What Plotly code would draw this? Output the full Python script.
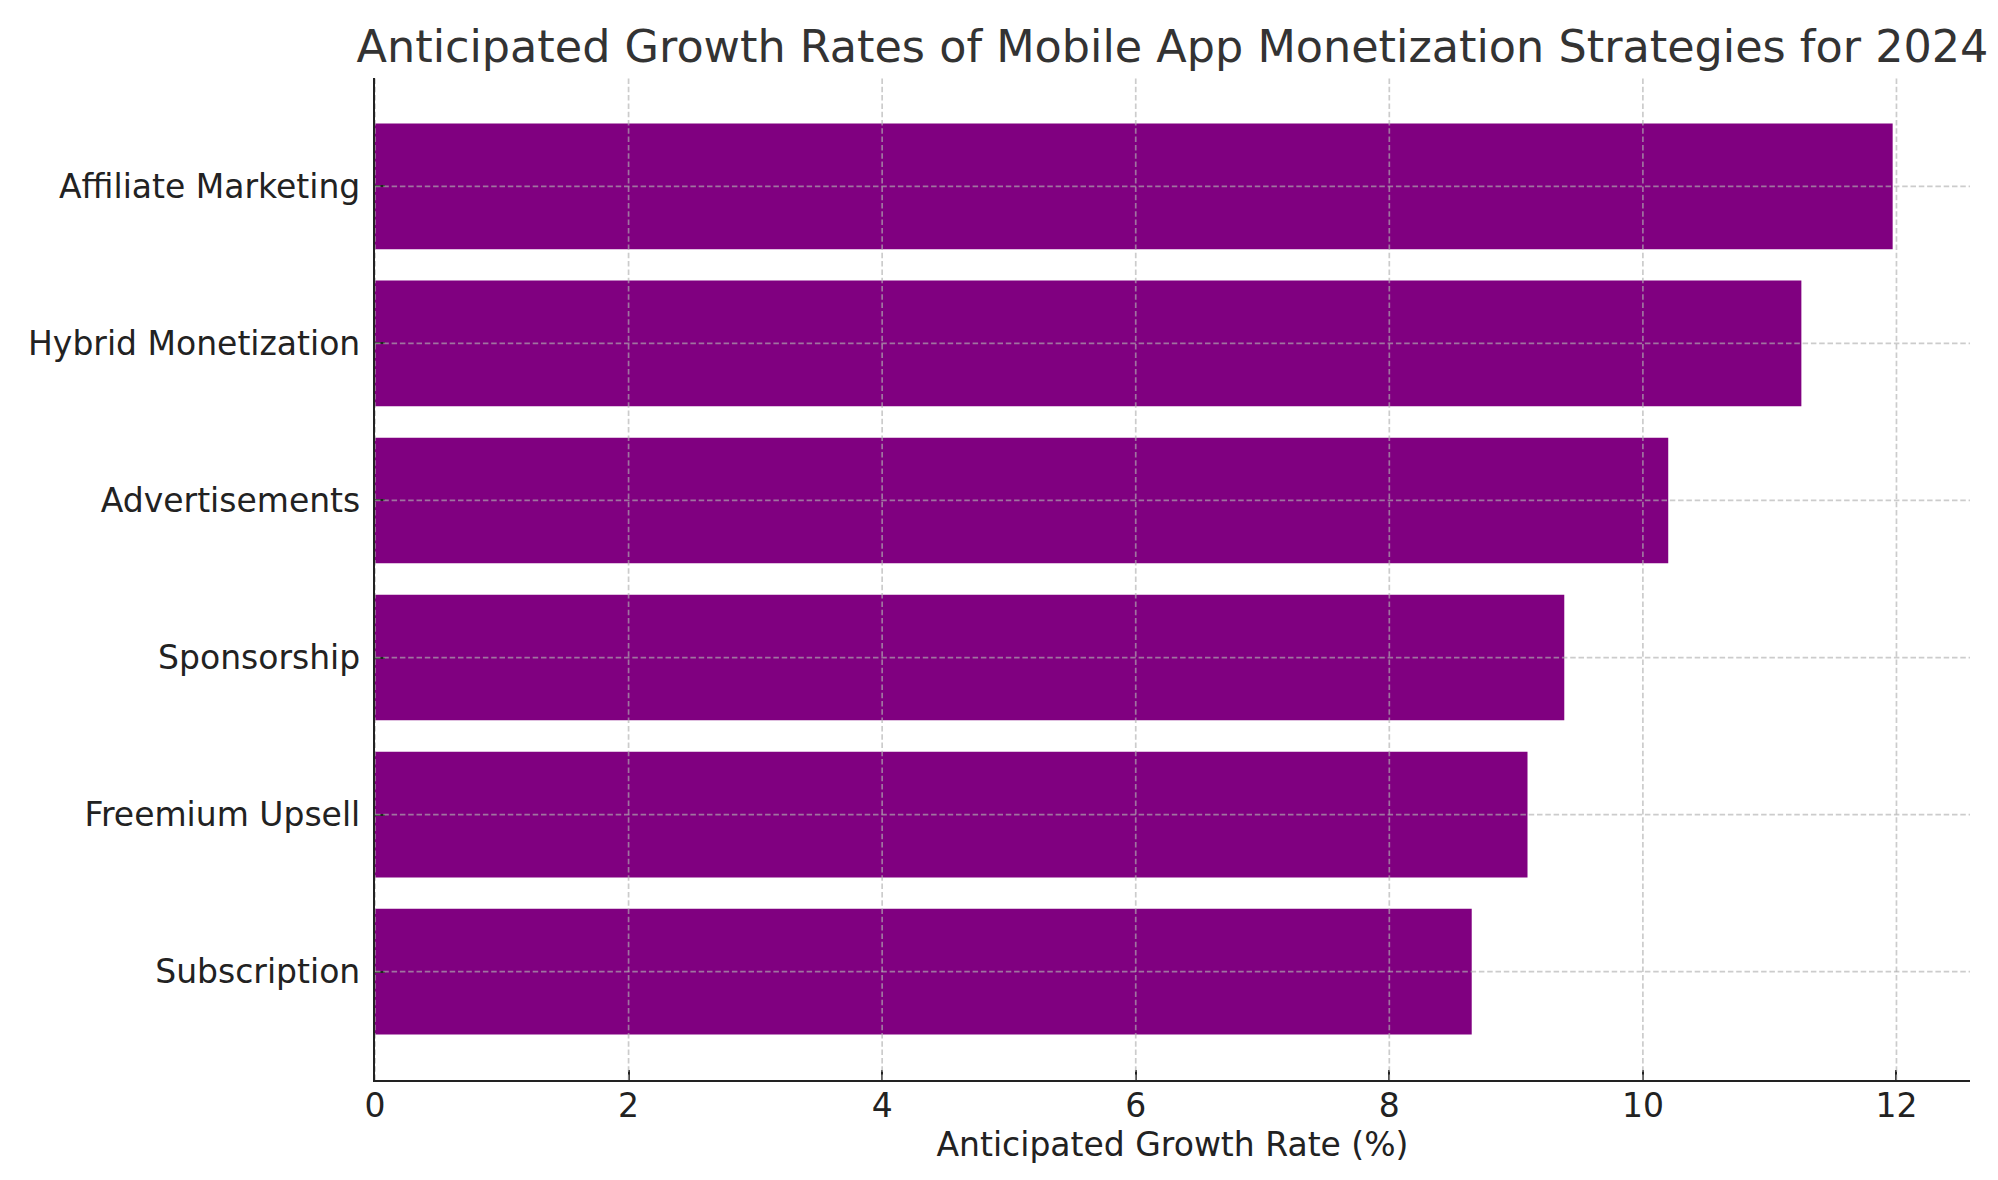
import plotly.graph_objects as go

categories = ["Subscription", "Freemium Upsell", "Sponsorship", "Advertisements",
              "Hybrid Monetization", "Affiliate Marketing"]
growth_rates = [8.65, 9.09, 9.38, 10.20, 11.25, 11.97]
x_ticks = [0, 2, 4, 6, 8, 10, 12]

title_text = "Anticipated Growth Rates of Mobile App Monetization Strategies for 2024"
x_label = "Anticipated Growth Rate (%)"

FONT = "DejaVu Sans"
GRID = "rgba(176,176,176,0.65)"
GRID_DASH = "5.5px,2.8px"

fig = go.Figure(go.Bar(
    x=growth_rates,
    y=categories,
    orientation="h",
    width=0.8,
    marker=dict(color="#800080", line=dict(width=0)),
))

# grid drawn above the bars (as in the reference)
shapes = []
for t in x_ticks:
    shapes.append(dict(type="line", xref="x", yref="paper", x0=t, x1=t, y0=0, y1=1,
                       layer="above", line=dict(color=GRID, width=1.7, dash=GRID_DASH)))
for c in categories:
    shapes.append(dict(type="line", xref="paper", yref="y", x0=0, x1=1, y0=c, y1=c,
                       layer="above", line=dict(color=GRID, width=1.7, dash=GRID_DASH)))

fig.update_layout(
    width=1998,
    height=1180,
    margin=dict(l=367, r=36, t=70, b=108),
    paper_bgcolor="white",
    plot_bgcolor="white",
    showlegend=False,
    font=dict(family=FONT, color="#222222"),
    title=dict(
        text=title_text,
        font=dict(family=FONT, size=44.5, color="#333333"),
        x=0.5, xref="paper", xanchor="center",
        y=1 - 38.7 / 1180, yref="container", yanchor="middle",
    ),
    shapes=shapes,
)

fig.update_xaxes(
    range=[0, 12.58],
    tickvals=x_ticks,
    ticktext=[str(v) for v in x_ticks],
    tickfont=dict(family=FONT, size=33, color="#222222"),
    ticks="inside", ticklen=9.7, tickwidth=2.2, tickcolor="#222222",
    ticklabelstandoff=-5,
    showline=True, linewidth=2.3, linecolor="#222222",
    showgrid=False,
    zeroline=False,
    layer="above traces",
    title=dict(text=x_label, font=dict(family=FONT, size=33, color="#222222"), standoff=2),
)

fig.update_yaxes(
    range=[-0.69, 5.69],
    categoryorder="array",
    categoryarray=categories,
    tickfont=dict(family=FONT, size=33, color="#222222"),
    ticks="inside", ticklen=9.7, tickwidth=2.2, tickcolor="#222222",
    ticklabelstandoff=6,
    showline=True, linewidth=2.3, linecolor="#222222",
    showgrid=False,
    zeroline=False,
    layer="above traces",
)

fig.write_html("out.html")
